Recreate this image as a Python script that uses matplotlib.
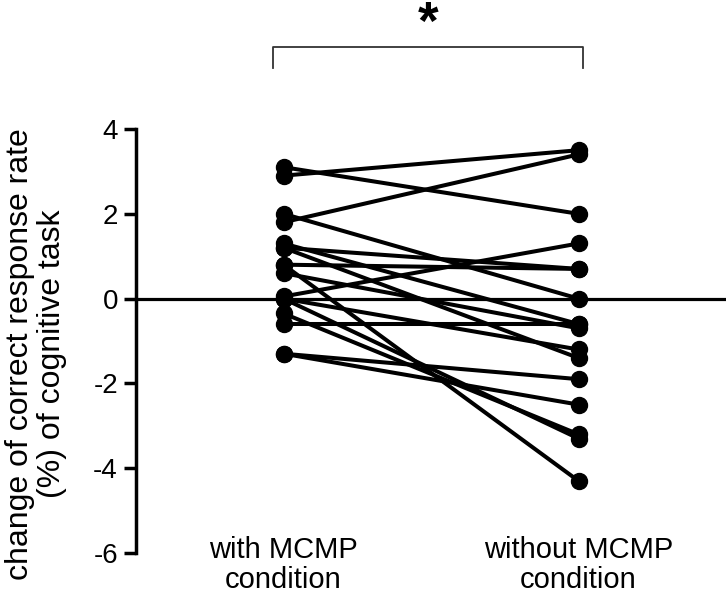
import matplotlib
matplotlib.use("Agg")
import matplotlib.pyplot as plt

plt.rcParams['font.family'] = ['Liberation Sans', 'DejaVu Sans']

conditions = ["with MCMP\ncondition", "without MCMP\ncondition"]
with_mcmp = [3.1, 2.9, 1.8, 2.0, 1.2, 1.3, 0.8, 0.8, 0.6, 0.05, 0.0, 0.0, -0.35, -0.6, -1.3, -1.3, 1.2]
without_mcmp = [2.0, 3.5, 3.4, 0.0, 0.7, -0.6, 0.7, -4.3, -0.7, 1.3, -1.2, -3.3, -3.2, -0.6, -1.9, -2.5, -1.4]
yticks = [-6, -4, -2, 0, 2, 4]
ylabel = "change of correct response rate\n(%) of cognitive task"
sig_label = "*"

W, H = 726, 599
fig = plt.figure(figsize=(W/100, H/100), dpi=100)
ax = fig.add_axes([136/W, 1-553/H, 1-136/W, (553-129)/H])

for a, b in zip(with_mcmp, without_mcmp):
    ax.plot([0, 1], [a, b], color='black', lw=2.9, marker='o', ms=11.5,
            markerfacecolor='black', markeredgecolor='black', solid_capstyle='round',
            clip_on=False, zorder=3)

ax.axhline(0, color='black', lw=2.3, zorder=2)

ax.set_xlim(-0.5, 1.5)
ax.set_ylim(-6, 4)
ax.set_yticks(yticks)
ax.set_yticklabels([str(t) for t in yticks], fontsize=20)
ax.tick_params(axis='y', length=9, width=2.5, pad=4)
ax.set_xticks([])
for s in ['top', 'right', 'bottom']:
    ax.spines[s].set_visible(False)
ax.spines['left'].set_linewidth(2.5)
ax.patch.set_alpha(0)

for i, lab in enumerate(conditions):
    ax.text(i, -6.28, lab, ha='center', va='center', fontsize=21,
            linespacing=1.12, clip_on=False)

fig.text(36/W, 1-354/H, ylabel, rotation=90, ha='center', va='center',
         fontsize=23, linespacing=1.05, multialignment='center')

# significance bracket
bx0, bx1 = -0.034, 1.014
by_top, by_bot = 5.94, 5.45
ax.plot([bx0, bx0, bx1, bx1], [by_bot, by_top, by_top, by_bot], color='#333333',
        lw=1.3, clip_on=False)
ax.text((bx0 + bx1) / 2, 6.45, sig_label, ha='center', va='center', fontsize=38,
        fontweight='bold', clip_on=False)

fig.savefig("out.png", dpi=100)
